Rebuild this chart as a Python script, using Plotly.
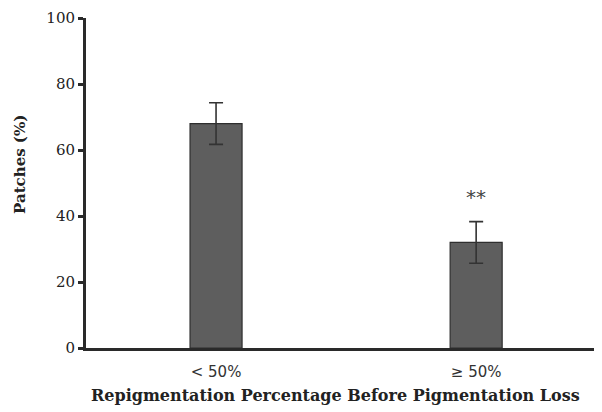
import plotly.graph_objects as go

categories = ["< 50%", "\u2265 50%"]
values = [68, 32]
errors = [6.3, 6.3]
annotations_text = ["", "**"]
x_title = "Repigmentation Percentage Before Pigmentation Loss"
y_title = "Patches (%)"

fig = go.Figure()
fig.add_trace(go.Bar(
    x=[0, 1], y=values, width=0.2,
    marker=dict(color="#5e5e5e", line=dict(color="#2e2e2e", width=1.2)),
    error_y=dict(type="data", array=errors, visible=True, color="#333333", thickness=1.6, width=7),
    showlegend=False,
))
for i, t in enumerate(annotations_text):
    if t:
        fig.add_annotation(x=i, y=values[i] + errors[i] + 7.5, text=t, showarrow=False,
                           font=dict(family="DejaVu Sans", size=20, color="#444444"))

fig.add_annotation(xref="paper", yref="paper", x=0.485, y=-0.145, text="<b>" + x_title + "</b>",
                   showarrow=False, xanchor="center", yanchor="middle",
                   font=dict(family="DejaVu Serif", size=16, color="#222222"))
fig.add_annotation(xref="paper", yref="paper", x=-0.128, y=0.555, text="<b>" + y_title + "</b>",
                   showarrow=False, xanchor="center", yanchor="middle", textangle=-90,
                   font=dict(family="DejaVu Serif", size=15, color="#222222"))

fig.update_layout(
    width=594, height=404,
    margin=dict(l=78, r=1, t=10, b=64, autoexpand=False),
    paper_bgcolor="white", plot_bgcolor="white",
    font=dict(family="DejaVu Serif", color="#222222"),
)
fig.update_xaxes(
    range=[-0.5, 1.48], tickvals=[0, 1], ticktext=categories,
    showline=True, linecolor="#2a2a2a", linewidth=3, ticks="", showgrid=False, zeroline=False,
    automargin=False, ticklabelstandoff=8,
    tickfont=dict(family="DejaVu Sans", size=15, color="#333333"),
)
fig.update_yaxes(
    range=[0, 100], tickvals=[0, 20, 40, 60, 80, 100],
    showline=True, linecolor="#2a2a2a", linewidth=3, ticks="outside", ticklen=5, tickwidth=3,
    tickcolor="#2a2a2a", showgrid=False, zeroline=False, automargin=False,
    tickfont=dict(family="DejaVu Serif", size=15, color="#222222"),
)
fig.write_html("out.html")
